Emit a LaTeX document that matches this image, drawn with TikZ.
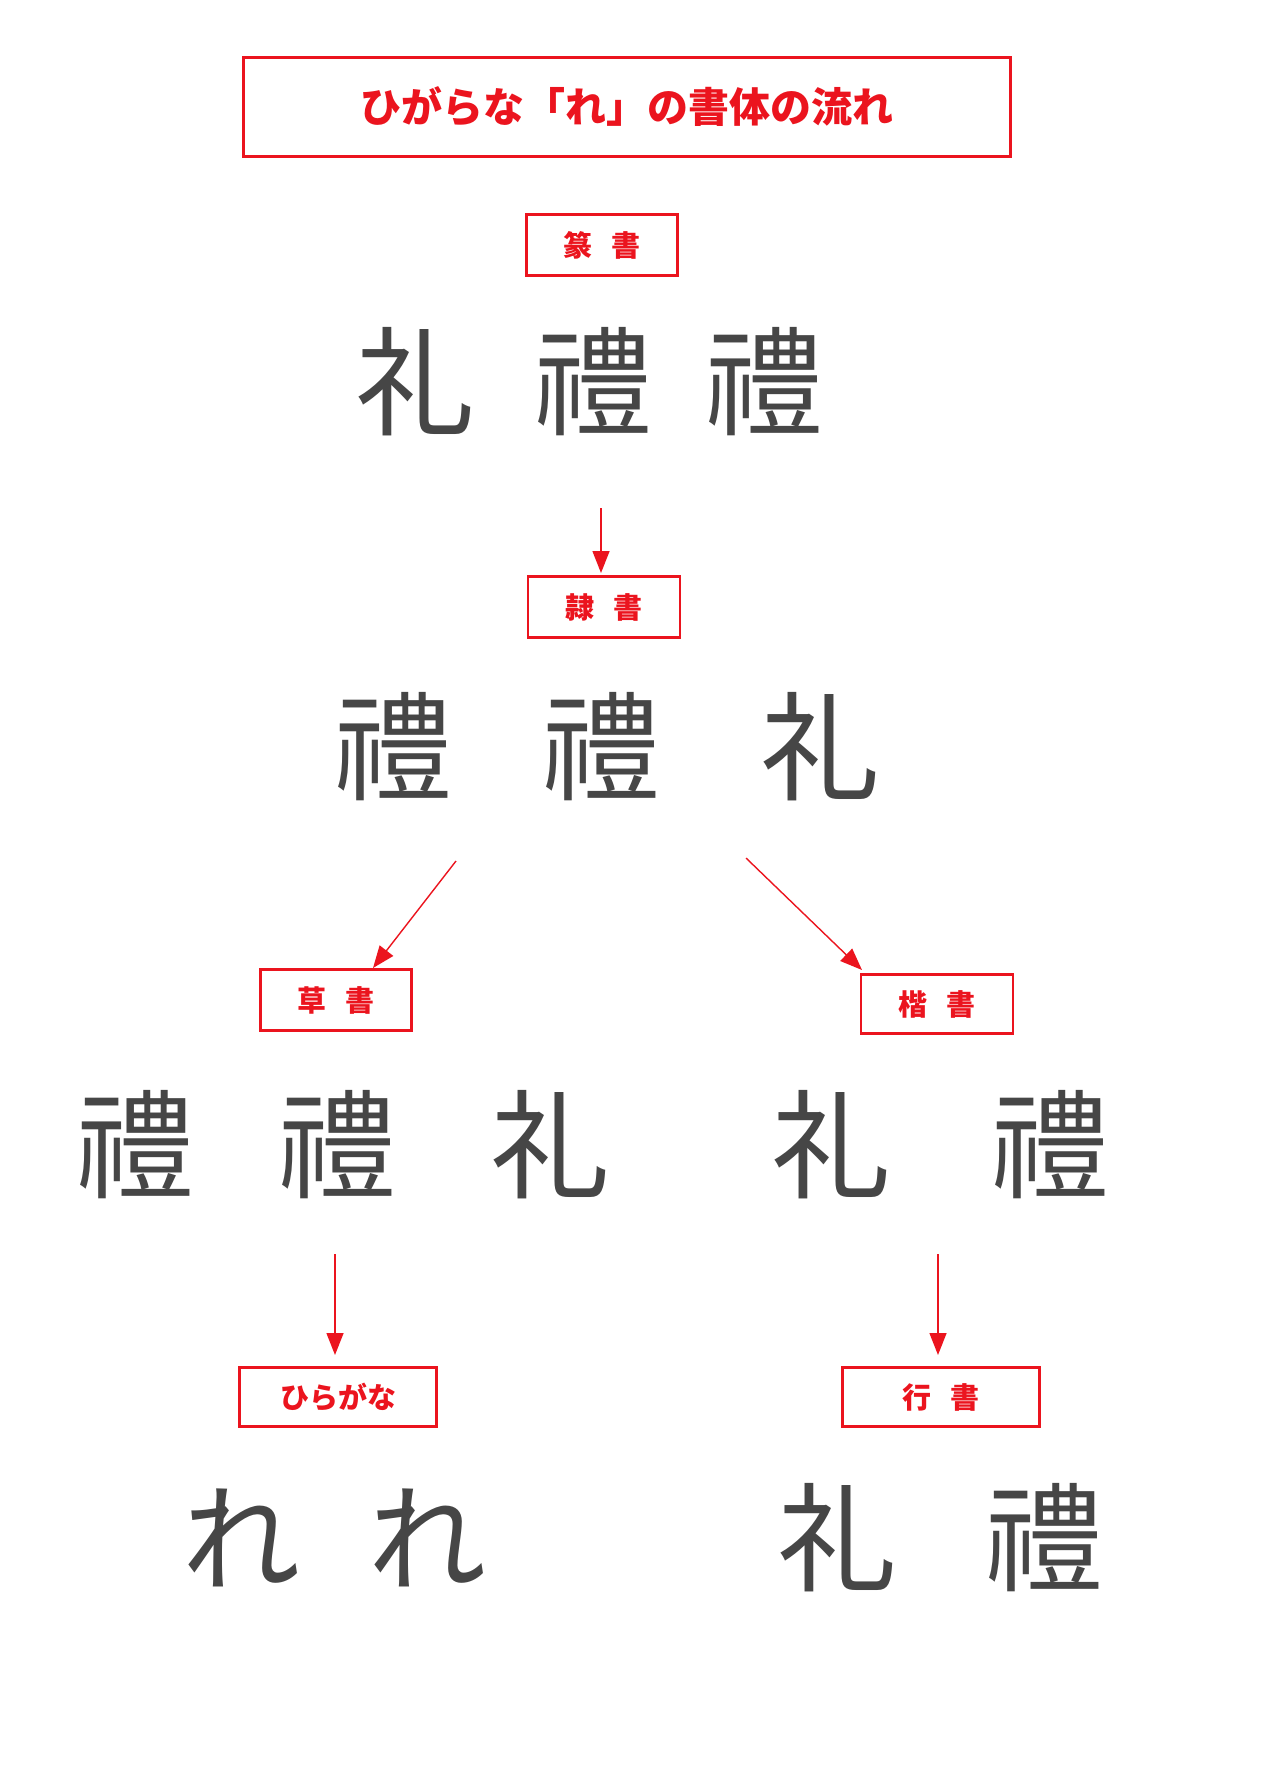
\documentclass[tikz,border=0pt]{standalone}
\usepackage{fontspec}
\newfontfamily\cjk{Noto Sans CJK JP}
\usetikzlibrary{arrows.meta}
\definecolor{rd}{RGB}{235,20,30}
\definecolor{ink}{RGB}{70,70,70}
\begin{document}
\begin{tikzpicture}[x=1pt,y=-1pt,
 box/.style={draw=rd,line width=2.5pt,text=rd,font=\cjk\fontsize{29}{29}\selectfont\bfseries,inner sep=0pt},
 ch/.style={text=ink,font=\cjk\fontsize{118}{118}\selectfont},
 arr/.style={draw=rd,line width=1.4pt,-{Triangle[length=22pt,width=17pt]}}]
\useasboundingbox (0,0) rectangle (1280,1780);
\node[box,minimum width=767pt,minimum height=99pt,font=\cjk\fontsize{41}{41}\selectfont\bfseries] (t) at (627,107) {ひがらな「れ」の書体の流れ};
\node[box,minimum width=151pt,minimum height=61pt] (b1) at (602,245) {篆\hspace{20pt}書};
\node[ch] (s1) at (415,382) {礼};
\node[ch] (s2) at (593,382) {禮};
\node[ch] (s3) at (764,382) {禮};
\coordinate (a1s) at (601,508);
\draw[arr] (a1s) -- (601,573);
\node[box,minimum width=152pt,minimum height=61pt] (b2) at (604,607) {隷\hspace{20pt}書};
\node[ch] (c1) at (393,747) {禮};
\node[ch] (c2) at (601,747) {禮};
\node[ch] (c3) at (820,747) {礼};
\coordinate (a2s) at (456,861);
\coordinate (a3s) at (746,858);
\node[box,minimum width=151pt,minimum height=61pt] (b3) at (336,1000) {草\hspace{20pt}書};
\node[box,minimum width=152pt,minimum height=59pt] (b4) at (937,1004) {楷\hspace{20pt}書};
\draw[arr] (a2s) -- (373,968);
\draw[arr] (a3s) -- (862,970);
\node[ch] (k1) at (135,1145) {禮};
\node[ch] (k2) at (337,1145) {禮};
\node[ch] (k3) at (550,1145) {礼};
\node[ch] (r1) at (831,1145) {礼};
\node[ch] (r2) at (1050,1145) {禮};
\coordinate (a4s) at (335,1254);
\coordinate (a5s) at (938,1254);
\node[box,minimum width=197pt,minimum height=59pt] (b5) at (338,1397) {ひらがな};
\node[box,minimum width=197pt,minimum height=59pt] (b6) at (941,1397) {行\hspace{20pt}書};
\draw[arr] (a4s) -- (335,1355);
\draw[arr] (a5s) -- (938,1355);
\node[ch] (h1) at (241,1538) {れ};
\node[ch] (h2) at (427,1538) {れ};
\node[ch] (g1) at (837,1538) {礼};
\node[ch] (g2) at (1044,1538) {禮};
\end{tikzpicture}
\end{document}
